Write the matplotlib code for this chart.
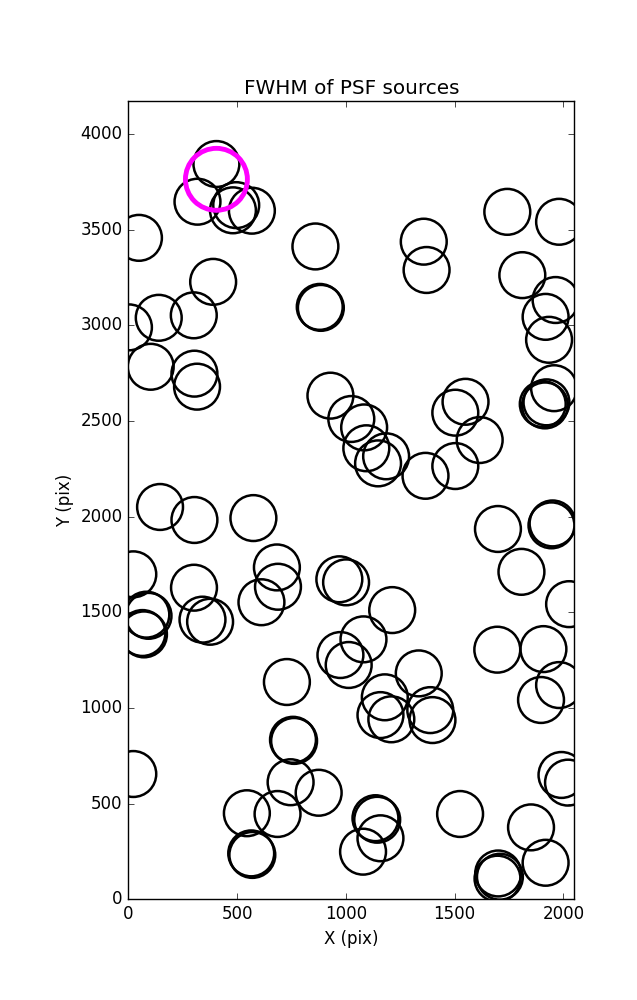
import numpy as np
import matplotlib
matplotlib.use('Agg')
import matplotlib.pyplot as plt

# PSF source positions (pix)
src_x = [405, 318, 481, 496, 568, 49, 390, 301, 140, 3, 103, 304, 316,
         860, 880, 885, 1742, 1980, 1358, 1371, 1811, 1964, 1918, 1934,
         929, 1025, 1084, 1094, 1185, 1148, 1366, 1503, 1615, 1503, 1550,
         1957, 1905, 1915, 1922, 146, 304, 575, 1699, 1945, 1950, 23, 302,
         683, 688, 612, 83, 93, 65, 72, 341, 376, 970, 1001, 1213, 1807,
         2026, 1081, 975, 1013, 1335, 1179, 1159, 1209, 1388, 1398, 729,
         1696, 1908, 1980, 1897, 757, 762, 746, 875, 545, 686, 565, 570,
         23, 1525, 1136, 1144, 1159, 1079, 1851, 1918, 1700, 1708, 1697,
         1991, 2021]
src_y = [3844, 3647, 3602, 3629, 3600, 3458, 3228, 3053, 3040, 2990, 2784,
         2748, 2680, 3413, 3097, 3092, 3594, 3542, 3438, 3290, 3263, 3133,
         3045, 2925, 2633, 2511, 2467, 2358, 2316, 2279, 2214, 2265, 2401,
         2544, 2601, 2672, 2589, 2582, 2598, 2051, 1983, 1993, 1936, 1955,
         1965, 1699, 1629, 1735, 1634, 1553, 1488, 1482, 1392, 1385, 1462,
         1451, 1673, 1657, 1512, 1712, 1543, 1359, 1277, 1225, 1181, 1056,
         963, 941, 989, 937, 1136, 1305, 1308, 1120, 1042, 834, 828, 612,
         557, 450, 446, 240, 232, 655, 446, 424, 416, 319, 249, 376, 191,
         135, 118, 108, 650, 610]

# highlighted source
sel_x = [405]
sel_y = [3764]

plt.style.use('classic')
fig = plt.figure(figsize=(6.37, 10), dpi=100, facecolor='white')
ax = fig.add_axes([0.2014, 0.1007, 0.7002, 0.7986])

ax.scatter(src_x, src_y, s=1090, facecolors='none', edgecolors='black',
           linewidths=1.8)
ax.scatter(sel_x, sel_y, s=1990, facecolors='none', edgecolors='magenta',
           linewidths=3.5, zorder=3)

ax.set_xlim(0, 2050)
ax.set_ylim(0, 4175)
ax.set_xticks([0, 500, 1000, 1500, 2000])
ax.set_yticks([0, 500, 1000, 1500, 2000, 2500, 3000, 3500, 4000])
ax.set_xlabel('X (pix)')
ax.set_ylabel('Y (pix)')
ax.set_title('FWHM of PSF sources')

fig.savefig('out.png', dpi=100, facecolor='white')
